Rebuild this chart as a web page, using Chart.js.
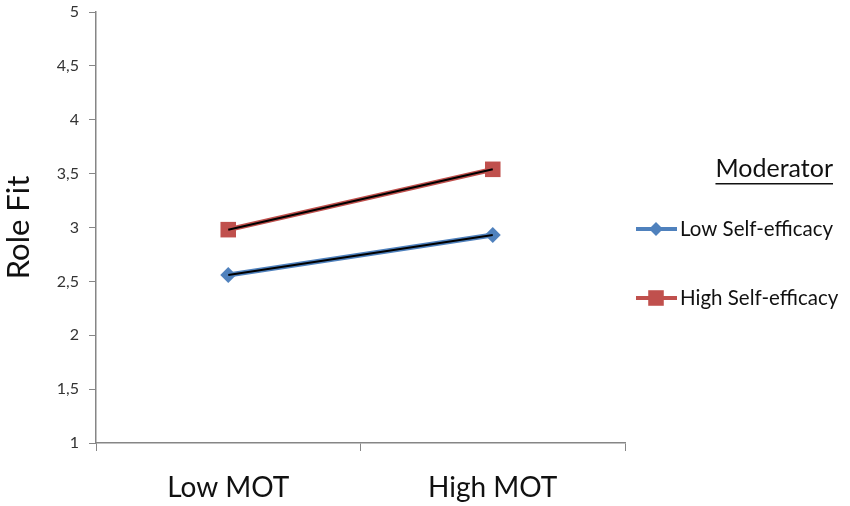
<!DOCTYPE html>
<html lang="en">
<head>
  <meta charset="UTF-8" />
  <title>Role Fit</title>
  <script src="https://cdn.jsdelivr.net/npm/chart.js"></script>
  <style>
    body { margin: 0; background: #fff; }
    canvas { display: block; }
  </style>
</head>
<body>
  <canvas id="chart" width="850" height="506"></canvas>
  <script>
    const categories = ['Low MOT', 'High MOT'];
    const lowSelfEfficacy = [2.56, 2.93];
    const highSelfEfficacy = [2.98, 3.54];
    const seriesNames = ['Low Self-efficacy', 'High Self-efficacy'];
    const legendTitle = 'Moderator';

    const blue = '#4F81BD';
    const red = '#C0504D';
    const font = 'Lato, "Open Sans", sans-serif';

    // legend drawn by hand, Excel style with underlined title
    const sideLegend = {
      id: 'sideLegend',
      afterDraw(chart) {
        const ctx = chart.ctx;
        ctx.save();
        ctx.fillStyle = '#111';
        ctx.font = '25px ' + font;
        ctx.textBaseline = 'middle';
        const tw = ctx.measureText(legendTitle).width;
        const tx = 833 - tw;
        ctx.fillText(legendTitle, tx, 169);
        ctx.fillRect(tx, 183, tw, 1.5);

        const items = [
          { name: seriesNames[0], color: blue, style: 'rectRot', r: 7, y: 229 },
          { name: seriesNames[1], color: red, style: 'rect', r: 11, y: 298 }
        ];
        ctx.font = '20.5px ' + font;
        items.forEach(it => {
          ctx.strokeStyle = it.color;
          ctx.lineWidth = 4;
          ctx.beginPath();
          ctx.moveTo(636, it.y);
          ctx.lineTo(677, it.y);
          ctx.stroke();
          ctx.fillStyle = it.color;
          Chart.helpers.drawPoint(ctx, { pointStyle: it.style, radius: it.r, borderWidth: 0 }, 656, it.y);
          ctx.fillStyle = '#111';
          ctx.fillText(it.name, 680, it.y);
        });
        ctx.restore();
      }
    };

    new Chart(document.getElementById('chart'), {
      type: 'line',
      data: {
        labels: categories,
        datasets: [
          { data: lowSelfEfficacy, borderColor: '#000', borderWidth: 2, pointRadius: 0, order: 0 },
          { data: highSelfEfficacy, borderColor: '#000', borderWidth: 2, pointRadius: 0, order: 0 },
          {
            label: seriesNames[0], data: lowSelfEfficacy, borderColor: blue, borderWidth: 5,
            pointStyle: 'rectRot', pointRadius: 8, pointBackgroundColor: blue, pointBorderWidth: 0, order: 1
          },
          {
            label: seriesNames[1], data: highSelfEfficacy, borderColor: red, borderWidth: 5,
            pointStyle: 'rect', pointRadius: 11, pointBackgroundColor: red, pointBorderWidth: 0, order: 1
          }
        ]
      },
      options: {
        responsive: false,
        animation: false,
        layout: { padding: { top: 12, right: 225, left: 0, bottom: 0 } },
        plugins: { legend: { display: false }, tooltip: { enabled: false } },
        scales: {
          x: {
            offset: true,
            grid: { offset: true, drawOnChartArea: false, color: '#868686', tickLength: 8 },
            border: { color: '#868686', width: 1.5 },
            ticks: { color: '#111', font: { family: font, size: 28 }, padding: 20 },
            afterFit: s => { s.height = 63; }
          },
          y: {
            min: 1, max: 5,
            grid: { drawOnChartArea: false, color: '#868686', tickLength: 7 },
            border: { color: '#868686', width: 1.5 },
            ticks: {
              stepSize: 0.5, color: '#333', font: { family: font, size: 16 }, padding: 10,
              callback: v => String(v).replace('.', ',')
            },
            title: { display: true, text: 'Role Fit', color: '#111', font: { family: font, size: 31 }, padding: 0 },
            afterFit: s => { s.width = 96; s.paddingTop = 0; s.paddingBottom = 0; }
          }
        }
      },
      plugins: [sideLegend]
    });
  </script>
</body>
</html>
